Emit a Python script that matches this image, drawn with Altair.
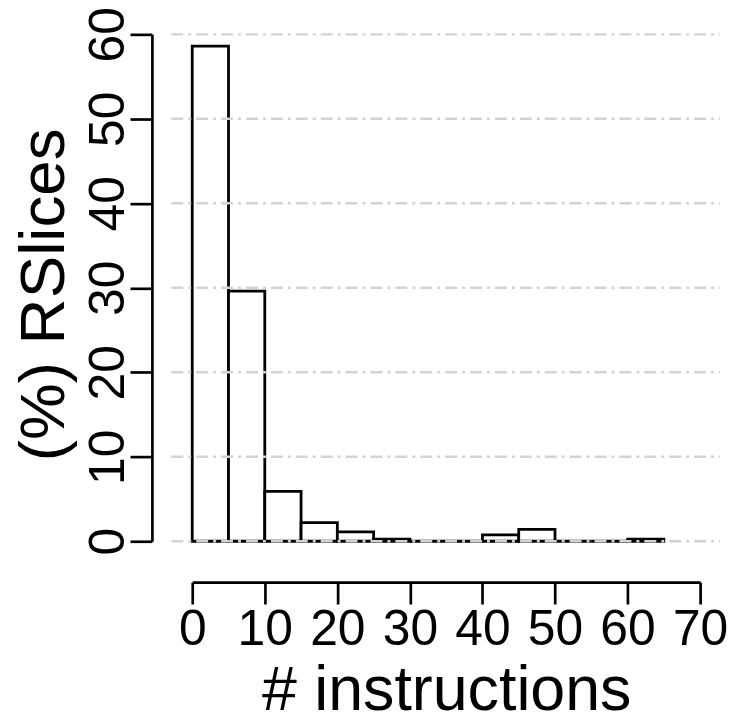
import altair as alt
import pandas as pd

# ---- data ----
bin_start = [0, 5, 10, 15, 20, 25, 30, 35, 40, 45, 50, 55, 60]
bin_width = 5
pct = [58.6, 29.6, 5.9, 2.2, 1.1, 0.25, 0, 0, 0.75, 1.4, 0, 0, 0.25]
x_ticks = [0, 10, 20, 30, 40, 50, 60, 70]
y_ticks = [0, 10, 20, 30, 40, 50, 60]

bars_df = pd.DataFrame({
    "start": bin_start,
    "end": [s + bin_width for s in bin_start],
    "pct": pct,
})
grid_df = pd.DataFrame({"g": y_ticks})

FONT = "Liberation Sans"
xscale = alt.Scale(domain=[0, 70], nice=False, zero=False)
yscale = alt.Scale(domain=[0, 60], nice=False)

x_axis = alt.Axis(
    values=x_ticks, title="# instructions", offset=41, grid=False,
    tickSize=22, tickWidth=2.7, tickColor="black",
    domainColor="black", domainWidth=2.7,
    labelFont=FONT, labelFontSize=50, labelColor="black", labelPadding=1,
    labelBaseline="top", labelAngle=0, labelFlush=False, labelOverlap=False,
    titleFont=FONT, titleFontSize=63, titleFontWeight="normal", titleColor="black",
    titleBaseline="alphabetic", titleAlign="center", titleX=255, titleY=128,
)
y_axis = alt.Axis(
    values=y_ticks, title="(%) RSlices", offset=40.5, grid=False,
    tickSize=22, tickWidth=2.7, tickColor="black",
    domainColor="black", domainWidth=2.7,
    labelFont=FONT, labelFontSize=50, labelColor="black", labelPadding=7,
    labelAngle=270, labelAlign="center", labelBaseline="alphabetic",
    labelFlush=False, labelOverlap=False,
    titleFont=FONT, titleFontSize=64, titleFontWeight="normal", titleColor="black",
    titleAngle=270, titleAlign="center", titleBaseline="alphabetic",
    titleX=-89, titleY=261,
)

bars = alt.Chart(bars_df).mark_rect(
    fill="white", stroke="black", strokeWidth=2.8
).encode(
    x=alt.X("start:Q", scale=xscale, axis=x_axis),
    x2="end:Q",
    y=alt.Y("pct:Q", scale=yscale, axis=y_axis),
    y2=alt.datum(0),
)

grid = alt.Chart(grid_df).mark_rule(
    color="#d3d3d3", strokeWidth=2.5, strokeDash=[12, 5, 3, 5]
).encode(
    y=alt.Y("g:Q", scale=yscale),
    x=alt.value(-21),
    x2=alt.value(530),
)

chart = alt.layer(bars, grid).properties(
    width=510, height=509,
    autosize=alt.AutoSizeParams(type="none"),
    padding={"left": 185, "top": 25, "right": 28, "bottom": 178},
    background="white",
).configure_view(stroke=None)

chart.save("out.html", embed_options={"renderer": "svg", "actions": False})
